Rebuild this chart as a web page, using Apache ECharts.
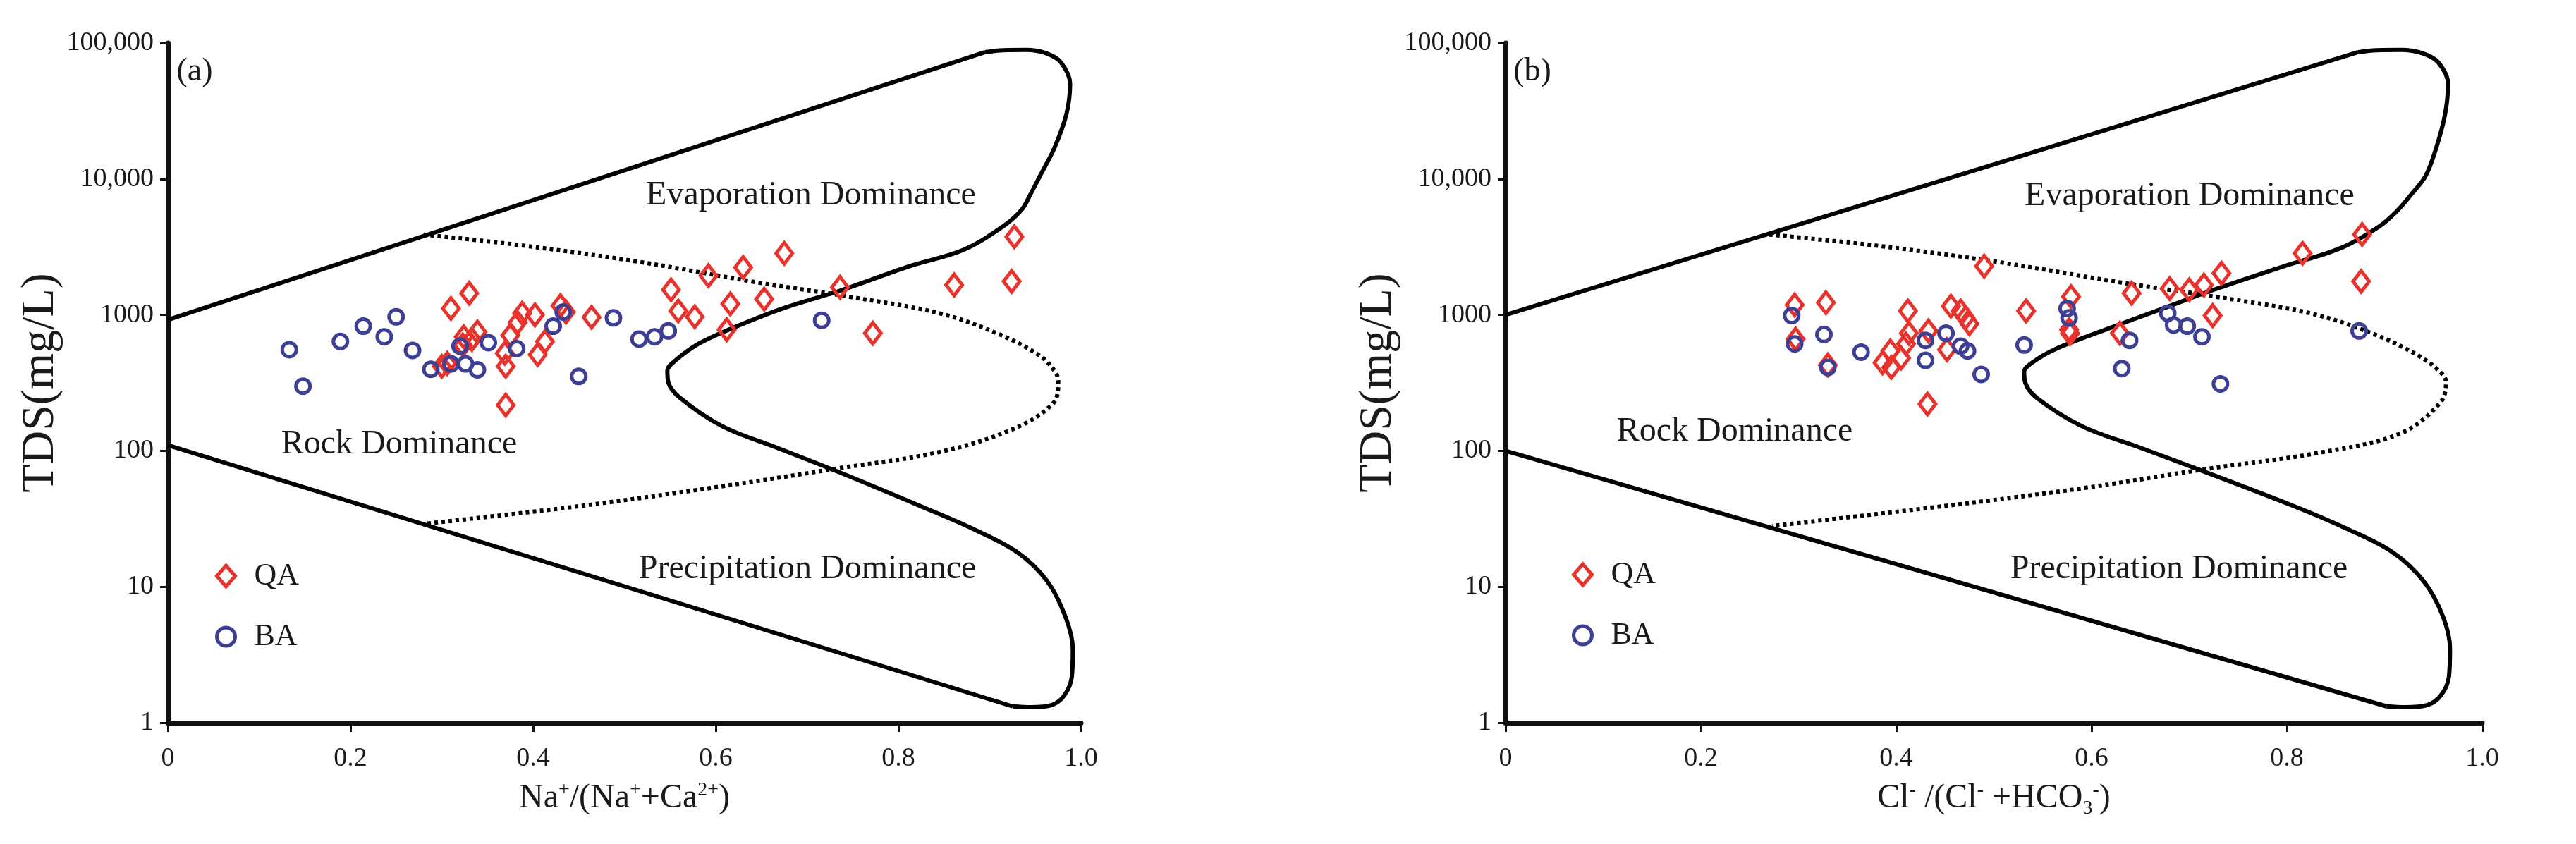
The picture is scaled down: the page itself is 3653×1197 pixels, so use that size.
<!DOCTYPE html>
<html>
<head>
<meta charset="utf-8">
<script src="https://cdn.jsdelivr.net/npm/echarts@6/dist/echarts.min.js"></script>
<style>
  html, body { margin: 0; padding: 0; background: #ffffff; }
  #chart { width: 3653px; height: 1197px; }
</style>
</head>
<body>
<div id="chart"></div>
<script>
// ---------- tick labels ----------
const xTickLabels = ['0', '0.2', '0.4', '0.6', '0.8', '1.0'];
const yTickLabels = ['1', '10', '100', '1000', '10,000', '100,000'];

// ---------- panel (a): Na+/(Na+ + Ca2+) vs TDS ----------
const qaPanelA = [
  [0.300, 419], [0.306, 440], [0.310, 1114], [0.323, 600], [0.330, 1443], [0.333, 660],
  [0.339, 750], [0.324, 690], [0.369, 522], [0.370, 419], [0.370, 217], [0.375, 705],
  [0.383, 877], [0.388, 1028], [0.402, 1000], [0.405, 510], [0.413, 637], [0.430, 1170],
  [0.436, 1050], [0.464, 960], [0.551, 1531], [0.559, 1069], [0.577, 968], [0.592, 1945],
  [0.612, 778], [0.616, 1205], [0.630, 2237], [0.653, 1306], [0.675, 2840], [0.736, 1595],
  [0.772, 733], [0.861, 1661], [0.924, 1763], [0.927, 3760]
];
const baPanelA = [
  [0.133, 555], [0.148, 299], [0.189, 637], [0.214, 826], [0.237, 690], [0.250, 968],
  [0.268, 548], [0.288, 398], [0.310, 436], [0.320, 589], [0.326, 436], [0.339, 395],
  [0.351, 625], [0.382, 565], [0.422, 826], [0.433, 1050], [0.450, 353], [0.488, 951],
  [0.516, 664], [0.533, 690], [0.548, 762], [0.716, 912]
];

// ---------- panel (b): Cl-/(Cl- + HCO3-) vs TDS ----------
const qaPanelB = [
  [0.296, 1183], [0.297, 664], [0.328, 1231], [0.330, 428], [0.386, 445], [0.394, 543],
  [0.395, 411], [0.405, 482], [0.410, 612], [0.412, 1069], [0.413, 733], [0.432, 221],
  [0.433, 762], [0.452, 555], [0.456, 1159], [0.466, 1069], [0.471, 951], [0.475, 859],
  [0.490, 2281], [0.533, 1069], [0.577, 778], [0.578, 730], [0.579, 1360], [0.629, 733],
  [0.641, 1443], [0.680, 1563], [0.700, 1531], [0.715, 1660], [0.724, 988], [0.733, 2023],
  [0.816, 2840], [0.876, 1763], [0.877, 3910]
];
const baPanelB = [
  [0.293, 988], [0.296, 612], [0.326, 718], [0.330, 411], [0.364, 532], [0.430, 650],
  [0.430, 463], [0.451, 733], [0.466, 589], [0.473, 543], [0.487, 365], [0.531, 600],
  [0.575, 1114], [0.577, 951], [0.631, 403], [0.639, 650], [0.678, 1028], [0.684, 843],
  [0.698, 826], [0.713, 690], [0.732, 311], [0.874, 762]
];

// ---------- Gibbs boundary curves ----------
const upperLineA = [[0, 920], [0.895, 85700]];
const lobeCurveA = [
  [0.895, 85700], [0.915, 88500], [0.94, 89000], [0.962, 84000], [0.978, 72000], [0.988, 50000],
  [0.984, 30000], [0.971, 17000], [0.955, 10500], [0.945, 7800], [0.935, 5940], [0.915, 4500],
  [0.871, 3000], [0.812, 2280], [0.739, 1530], [0.673, 1114], [0.614, 778], [0.581, 612],
  [0.556, 463], [0.547, 390], [0.548, 320], [0.561, 245], [0.607, 152], [0.666, 106],
  [0.732, 71], [0.825, 39], [0.88, 27], [0.93, 18], [0.963, 11], [0.983, 6], [0.991, 3.5],
  [0.99, 2.2], [0.982, 1.6], [0.968, 1.35], [0.945, 1.3], [0.925, 1.32]
];
const lowerLineA = [[0.925, 1.32], [0, 110]];
const dottedCurveA = [
  [0.28, 3900], [0.384, 3270], [0.514, 2470], [0.647, 1727], [0.746, 1360], [0.845, 1028],
  [0.911, 718], [0.955, 500], [0.972, 380], [0.975, 320], [0.97, 226], [0.927, 146],
  [0.845, 98], [0.732, 74], [0.6, 54], [0.448, 39], [0.28, 29]
];

const upperLineB = [[0, 1000], [0.873, 85700]];
const lobeCurveB = [
  [0.873, 85700], [0.892, 88500], [0.917, 89000], [0.939, 84000], [0.955, 72000], [0.965, 50000],
  [0.962, 30000], [0.953, 17000], [0.942, 10500], [0.928, 7800], [0.914, 5940], [0.895, 4500],
  [0.855, 3100], [0.797, 2280], [0.725, 1530], [0.673, 1114], [0.614, 778], [0.564, 565],
  [0.539, 445], [0.531, 380], [0.532, 320], [0.544, 245], [0.590, 152], [0.649, 106],
  [0.714, 71], [0.808, 39], [0.860, 27], [0.908, 18], [0.940, 11], [0.960, 6], [0.967, 3.5],
  [0.966, 2.2], [0.958, 1.6], [0.944, 1.35], [0.921, 1.3], [0.902, 1.32]
];
const lowerLineB = [[0.902, 1.32], [0, 100]];
const dottedCurveB = [
  [0.270, 3900], [0.374, 3270], [0.501, 2470], [0.631, 1727], [0.727, 1360], [0.824, 1028],
  [0.89, 718], [0.935, 500], [0.957, 380], [0.963, 320], [0.957, 226], [0.916, 134],
  [0.83, 96], [0.72, 74], [0.59, 53], [0.446, 39], [0.273, 28]
];

// ---------- styling ----------
const SERIF = '"Liberation Serif", "Times New Roman", Times, serif';
const INK = '#1a1a1a';
const RED = '#e8322c';
const BLUE = '#3d3f94';

function xAxisDef(gridIndex, richName) {
  return {
    gridIndex: gridIndex, type: 'value', min: 0, max: 1, interval: 0.2,
    axisLine: { show: true, onZero: false, lineStyle: { color: '#111', width: 7 } },
    axisTick: { show: true, length: 13, lineStyle: { color: '#111', width: 3 } },
    axisLabel: {
      margin: 32, fontSize: 38, fontFamily: SERIF, color: INK,
      formatter: function (v) { return xTickLabels[Math.round(v / 0.2)]; }
    },
    splitLine: { show: false },
    name: richName, nameLocation: 'middle', nameGap: 78,
    nameTextStyle: {
      color: INK,
      rich: {
        a: { fontSize: 48, fontFamily: SERIF, color: INK, lineHeight: 58 },
        b: { fontSize: 28, fontFamily: SERIF, color: INK, lineHeight: 58, verticalAlign: 'top', padding: [4, 0, 0, 0] },
        c: { fontSize: 28, fontFamily: SERIF, color: INK, lineHeight: 58, verticalAlign: 'bottom' }
      }
    }
  };
}
function yAxisDef(gridIndex) {
  return {
    gridIndex: gridIndex, type: 'log', logBase: 10, min: 1, max: 100000,
    axisLine: { show: true, onZero: false, lineStyle: { color: '#111', width: 7 } },
    axisTick: { show: true, length: 11, lineStyle: { color: '#111', width: 3 } },
    axisLabel: {
      margin: 20, fontSize: 38, fontFamily: SERIF, color: INK,
      formatter: function (v) { return yTickLabels[Math.round(Math.log10(v))]; }
    },
    splitLine: { show: false },
    name: 'TDS(mg/L)', nameLocation: 'middle', nameGap: 96, nameRotate: 90,
    nameTextStyle: { fontSize: 66, fontFamily: SERIF, color: INK }
  };
}
function curve(name, data, idx, dotted, smooth) {
  return {
    name: name, type: 'line', data: data, xAxisIndex: idx, yAxisIndex: idx,
    showSymbol: false, symbol: 'none', smooth: smooth ? 0.35 : false, silent: true, z: 2,
    lineStyle: { color: '#000', width: 6, type: dotted ? [5, 5] : 'solid', cap: 'butt' }
  };
}
function points(name, data, idx, isQA) {
  return {
    name: name, type: 'scatter', data: data, xAxisIndex: idx, yAxisIndex: idx, z: 5,
    symbol: isQA ? 'diamond' : 'circle',
    symbolSize: isQA ? [23, 30] : 20,
    itemStyle: { color: 'rgba(255,255,255,0)', borderColor: isQA ? RED : BLUE, borderWidth: 5, opacity: 1 }
  };
}
function legendDef(left, top) {
  return {
    orient: 'vertical', left: left, top: top, itemWidth: 26, itemHeight: 30, itemGap: 42,
    selectedMode: false,
    itemStyle: { borderWidth: 5 },
    data: [
      { name: 'QA', icon: 'diamond', itemStyle: { color: 'rgba(255,255,255,0)', borderColor: RED, borderWidth: 5 } },
      { name: 'BA', icon: 'circle', itemStyle: { color: 'rgba(255,255,255,0)', borderColor: BLUE, borderWidth: 5 } }
    ],
    textStyle: { fontSize: 44, fontFamily: SERIF, color: INK, padding: [0, 0, 0, 22] }
  };
}
function label(text, x, y, size) {
  return {
    type: 'text', x: x, y: y, z: 10,
    style: { text: text, fontSize: size, fontFamily: SERIF, fill: INK, align: 'center', verticalAlign: 'middle' }
  };
}

const chart = echarts.init(document.getElementById('chart'), null, { renderer: 'canvas' });
chart.setOption({
  backgroundColor: '#ffffff',
  animation: false,
  grid: [
    { left: 238, top: 61, width: 1295, height: 964 },
    { left: 2135, top: 61, width: 1385, height: 964 }
  ],
  xAxis: [
    xAxisDef(0, '{a|Na}{b|+}{a|/(Na}{b|+}{a|+Ca}{b|2+}{a|)}'),
    xAxisDef(1, '{a|Cl}{b|-}{a| /(Cl}{b|-}{a| +HCO}{c|3}{b|-}{a|)}')
  ],
  yAxis: [yAxisDef(0), yAxisDef(1)],
  legend: [legendDef(300, 790), legendDef(2224, 788)],
  graphic: [
    label('(a)', 276, 102, 46),
    label('(b)', 2173, 102, 46),
    label('Evaporation Dominance', 1150, 277, 48),
    label('Rock Dominance', 566, 630, 48),
    label('Precipitation Dominance', 1145, 807, 48),
    label('Evaporation Dominance', 3105, 278, 48),
    label('Rock Dominance', 2460, 612, 48),
    label('Precipitation Dominance', 3090, 807, 48)
  ],
  series: [
    curve('upperA', upperLineA, 0, false, false),
    curve('lobeA', lobeCurveA, 0, false, true),
    curve('lowerA', lowerLineA, 0, false, false),
    curve('dottedA', dottedCurveA, 0, true, true),
    curve('upperB', upperLineB, 1, false, false),
    curve('lobeB', lobeCurveB, 1, false, true),
    curve('lowerB', lowerLineB, 1, false, false),
    curve('dottedB', dottedCurveB, 1, true, true),
    points('QA', qaPanelA, 0, true),
    points('BA', baPanelA, 0, false),
    points('QA', qaPanelB, 1, true),
    points('BA', baPanelB, 1, false)
  ]
});
</script>
</body>
</html>
